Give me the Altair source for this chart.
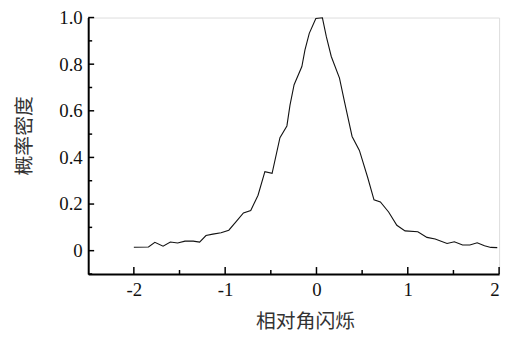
import altair as alt
import pandas as pd

# Curve data
x_vals = [-2.00, -1.84, -1.77, -1.68, -1.60, -1.52, -1.44, -1.35, -1.28, -1.21,
          -1.135, -1.045, -0.96, -0.88, -0.80, -0.72, -0.64, -0.565, -0.486, -0.40,
          -0.324, -0.29, -0.245, -0.16, -0.126, -0.079, -0.007, 0.065, 0.108, 0.162,
          0.252, 0.306, 0.39, 0.47, 0.56, 0.63, 0.70, 0.79, 0.88, 0.97,
          1.11, 1.21, 1.30, 1.43, 1.51, 1.60, 1.68, 1.76, 1.84, 1.91, 1.98]
y_vals = [0.015, 0.016, 0.036, 0.019, 0.037, 0.033, 0.041, 0.041, 0.037, 0.065,
          0.071, 0.077, 0.088, 0.125, 0.162, 0.172, 0.238, 0.339, 0.332, 0.485,
          0.535, 0.624, 0.712, 0.79, 0.861, 0.932, 0.996, 0.999, 0.918, 0.833,
          0.74, 0.64, 0.49, 0.43, 0.315, 0.218, 0.209, 0.166, 0.109, 0.085,
          0.081, 0.057, 0.050, 0.031, 0.038, 0.024, 0.024, 0.034, 0.021, 0.014, 0.013]

x_major = [-2, -1, 0, 1, 2]
x_minor = [-1.5, -0.5, 0.5, 1.5]
y_major = [0, 0.2, 0.4, 0.6, 0.8, 1.0]
y_minor = [-0.1, 0.1, 0.3, 0.5, 0.7, 0.9]

x_title = "相对角闪烁"
y_title = "概率密度"

df = pd.DataFrame({"x": x_vals, "y": y_vals})

W, H = 415, 259
xs = alt.Scale(domain=[-2.5, 2], nice=False, zero=False)
ys = alt.Scale(domain=[-0.1, 1.0], nice=False, zero=False)

serif = "Liberation Serif"
cjk = "Noto Sans CJK SC"

line = alt.Chart(df).mark_line(color="#111111", strokeWidth=1.1).encode(
    x=alt.X("x:Q", scale=xs, axis=alt.Axis(
        values=x_major, ticks=False, domainColor="#000", domainWidth=2,
        labelExpr="datum.value < 0 ? '-' + abs(datum.value) : '' + datum.value",
        labelPadding=7,
        grid=False, title=x_title, titleX=219, titleY=48,
        titleBaseline="middle", titleAnchor="middle", titleAlign="center")),
    y=alt.Y("y:Q", scale=ys, axis=alt.Axis(
        values=y_major, ticks=False, domainColor="#000", domainWidth=2,
        labelExpr="datum.value == 0 ? '0' : format(datum.value, '.1f')",
        labelPadding=6,
        grid=False, title=y_title, titleX=-64, titleY=119,
        titleBaseline="middle", titleAnchor="middle", titleAlign="center",
        titleAngle=270)),
)

xmaj = alt.Chart(pd.DataFrame({"t": x_major})).mark_rule(color="#000", strokeWidth=1.5).encode(
    x=alt.X("t:Q", scale=xs), y=alt.value(H), y2=alt.value(H - 7))
xmin = alt.Chart(pd.DataFrame({"t": x_minor})).mark_rule(color="#000", strokeWidth=1.5).encode(
    x=alt.X("t:Q", scale=xs), y=alt.value(H), y2=alt.value(H - 4))
ymaj = alt.Chart(pd.DataFrame({"t": y_major})).mark_rule(color="#000", strokeWidth=1.5).encode(
    y=alt.Y("t:Q", scale=ys), x=alt.value(0), x2=alt.value(6))
ymin = alt.Chart(pd.DataFrame({"t": y_minor})).mark_rule(color="#000", strokeWidth=1.5).encode(
    y=alt.Y("t:Q", scale=ys), x=alt.value(0), x2=alt.value(4))

chart = alt.layer(line, xmaj, xmin, ymaj, ymin).properties(
    width=W, height=H,
    autosize=alt.AutoSizeParams(type="none"),
    padding={"left": 81, "top": 8, "right": 10, "bottom": 62},
).configure_view(stroke=None).configure(
    background="white", font=serif
).configure_axis(
    labelFont=serif, labelFontSize=19, labelColor="#111",
    titleFont=cjk, titleFontSize=20, titleFontWeight="normal", titleColor="#333",
)

chart.save("out.html", embed_options={"renderer": "svg", "actions": False})
